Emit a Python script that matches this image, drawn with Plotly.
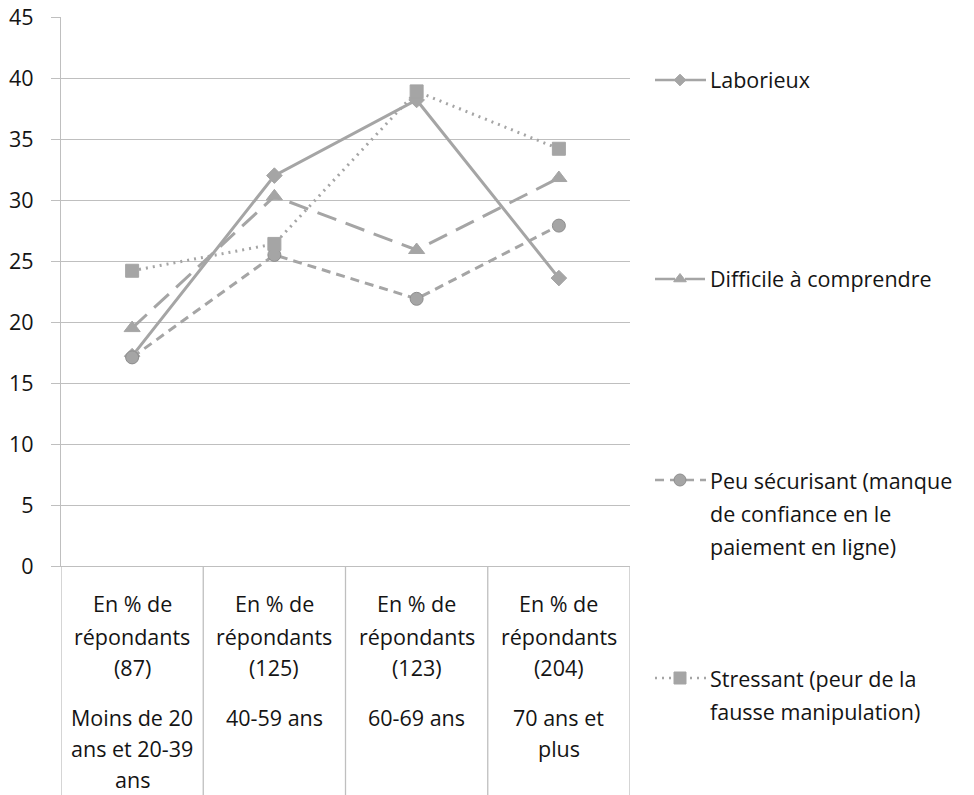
import plotly.graph_objects as go

# Age groups (respondent counts in brackets) and share of respondents per answer
groups = ["(87)", "(125)", "(123)", "(204)"]
age_labels = [
    ["Moins de 20", "ans et 20-39", "ans"],
    ["40-59 ans"],
    ["60-69 ans"],
    ["70 ans et", "plus"],
]
laborieux = [17.2, 32.0, 38.2, 23.6]
difficile = [19.5, 30.3, 25.9, 31.8]
peu_securisant = [17.1, 25.5, 21.9, 27.9]
stressant = [24.2, 26.4, 38.9, 34.2]

series_names = [
    ["Laborieux"],
    ["Difficile à comprendre"],
    ["Peu sécurisant (manque", "de confiance en le", "paiement en ligne)"],
    ["Stressant (peur de la", "fausse manipulation)"],
]
series_values = [laborieux, difficile, peu_securisant, stressant]

W, H = 974, 795
FONT = "Open Sans"
FS = 21.5
TXT = "#141414"
GREY = "#A5A5A5"
GRID = "#BFBFBF"

styles = [
    dict(dash="solid", symbol="diamond", size=12, lsize=9, lc=GREY),
    dict(dash="20px,10px", symbol="triangle-up", size=14, lsize=11, lc=GREY),
    dict(dash="9px,6px", symbol="circle", size=13, lsize=12, lc="#8E8E8E"),
    dict(dash="2px,5px", symbol="square", size=13, lsize=12, lc=GREY),
]

# plot area in pixels
L, R, T, B = 61, 630, 17, 566

fig = go.Figure()
xs = list(range(len(groups)))
for vals, st, nm in zip(series_values, styles, series_names):
    fig.add_trace(go.Scatter(
        x=xs, y=vals, mode="lines+markers", name=" ".join(nm),
        line=dict(color=GREY, width=3, dash=st["dash"]),
        marker=dict(symbol=st["symbol"], size=st["size"], color=GREY,
                    line=dict(color=st["lc"], width=1)),
        showlegend=False, cliponaxis=False,
    ))

# hand-placed legend on an overlay axis measured in pixels
leg_rows = [80, 279, 480, 678]
for row_y, st, nm in zip(leg_rows, styles, series_names):
    fig.add_trace(go.Scatter(
        x=[655, 706], y=[row_y, row_y], mode="lines", xaxis="x2", yaxis="y2",
        line=dict(color=GREY, width=2.5, dash=st["dash"]),
        showlegend=False, hoverinfo="skip", cliponaxis=False,
    ))
    fig.add_trace(go.Scatter(
        x=[680], y=[row_y], mode="markers", xaxis="x2", yaxis="y2",
        marker=dict(symbol=st["symbol"], size=st["lsize"], color=GREY,
                    line=dict(color=st["lc"], width=1)),
        showlegend=False, hoverinfo="skip", cliponaxis=False,
    ))

annotations = []
for row_y, nm in zip(leg_rows, series_names):
    for k, line in enumerate(nm):
        annotations.append(dict(
            x=708 / W, y=1 - (row_y + 33 * k) / H, xref="paper", yref="paper",
            text=line, showarrow=False, xanchor="left", yanchor="middle",
            font=dict(family=FONT, size=FS, color=TXT),
        ))

# category labels under the axis
for i, (grp, ages) in enumerate(zip(groups, age_labels)):
    lines = [("En % de", 603), ("répondants", 636), (grp, 667)]
    lines += [(a, 717 + 31 * k) for k, a in enumerate(ages)]
    for text, py in lines:
        annotations.append(dict(
            x=i, y=1 - py / H, xref="x", yref="paper", text=text,
            showarrow=False, xanchor="center", yanchor="middle",
            font=dict(family=FONT, size=FS, color=TXT),
        ))

# cell separators below the category axis
shapes = []
for b in [-0.5, 0.5, 1.5, 2.5, 3.5]:
    shapes.append(dict(
        type="line", xref="x", yref="paper", x0=b, x1=b,
        y0=1 - B / H, y1=0, line=dict(color=GRID, width=1.3),
    ))

fig.update_layout(
    width=W, height=H,
    margin=dict(l=0, r=0, t=0, b=0, pad=0, autoexpand=False),
    paper_bgcolor="white", plot_bgcolor="rgba(0,0,0,0)",
    font=dict(family=FONT, size=FS, color=TXT),
    xaxis=dict(
        domain=[L / W, R / W], range=[-0.5, 3.5], showgrid=False,
        zeroline=False, showline=True, linecolor=GRID, linewidth=1.3,
        showticklabels=False, ticks="", fixedrange=True, automargin=False,
    ),
    yaxis=dict(
        domain=[1 - B / H, 1 - T / H], range=[0, 45], dtick=5,
        showgrid=True, gridcolor=GRID, gridwidth=1.3, zeroline=False,
        showline=True, linecolor=GRID, linewidth=1.3,
        ticks="outside", ticklen=9, tickcolor=GRID, tickwidth=1.3,
        ticklabelstandoff=13, automargin=False,
        tickfont=dict(family=FONT, size=FS, color=TXT),
    ),
    xaxis2=dict(domain=[0, 1], range=[0, W], visible=False, anchor="y2",
                automargin=False),
    yaxis2=dict(domain=[0, 1], range=[H, 0], visible=False, anchor="x2",
                automargin=False),
    annotations=annotations,
    shapes=shapes,
)

fig.write_html("out.html")
